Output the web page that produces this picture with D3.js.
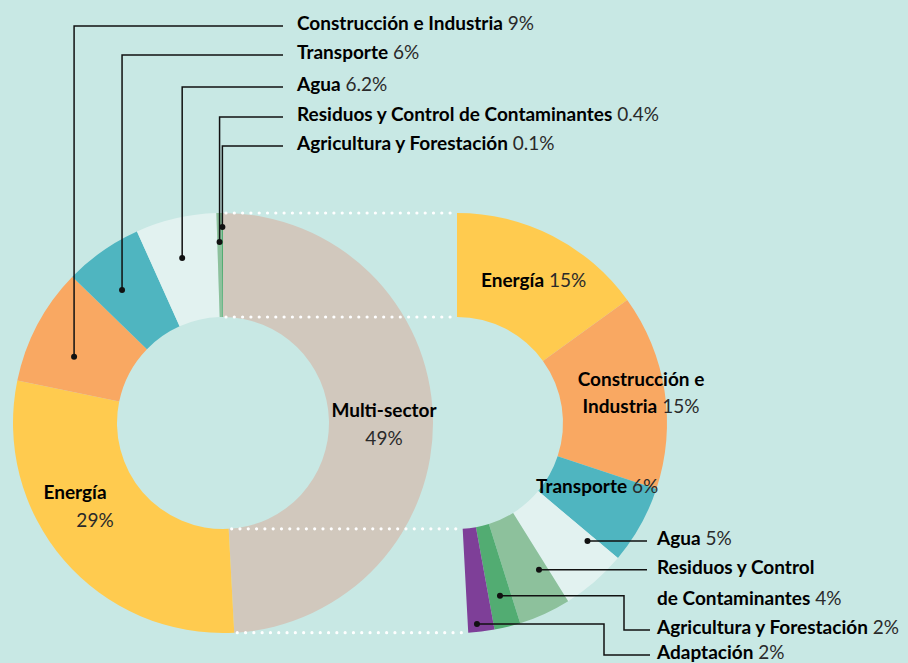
<!DOCTYPE html>
<html>
<head>
<meta charset="utf-8">
<script src="https://cdn.jsdelivr.net/npm/d3@7"></script>
<style>
	body { margin: 0; background: #c8e8e4; }
	svg { display: block; font-family: Lato, 'Open Sans', sans-serif; }
	.name { font-weight: 700; fill: #000; }
	.pct { font-weight: 400; fill: #2a2a2a; }
</style>
</head>
<body>
<div id="chart"></div>
<script>
// total climate finance by sector
var sectors = ['Multi-sector', 'Energía', 'Construcción e Industria', 'Transporte', 'Agua',
	'Residuos y Control de Contaminantes', 'Agricultura y Forestación'];
var shares = [49, 29, 9, 6, 6.2, 0.4, 0.1];

// breakdown of the multi-sector slice
var multiSectors = ['Energía', 'Construcción e Industria', 'Transporte', 'Agua',
	'Residuos y Control de Contaminantes', 'Agricultura y Forestación', 'Adaptación'];
var multiShares = [15, 15, 6, 5, 4, 2, 2];

var width = 908;
var height = 663;
var outerR = 210;
var innerR = 106;
var cy = 423;
var leftCx = 223;
var rightCx = 457;
var fontSize = 19;

var color = d3.scaleOrdinal()
	.domain(['Multi-sector', 'Energía', 'Construcción e Industria', 'Transporte', 'Agua',
		'Residuos y Control de Contaminantes', 'Agricultura y Forestación', 'Adaptación'])
	.range(['#d1c8bd', '#ffcb4f', '#f9a862', '#4fb5c0', '#e2f2f0', '#8dc19c', '#52ac72', '#7e3f98']);

var svg = d3.select('#chart')
	.append('svg')
	.attr('width', width)
	.attr('height', height);

svg.append('rect').attr('width', width).attr('height', height).attr('fill', '#c8e8e4');

var arc = d3.arc().innerRadius(innerR).outerRadius(outerR);

/* left donut */
var leftData = d3.pie().sort(null)(shares)
	.map((p, i) => Object.assign(p, { name: sectors[i] }));

var left = svg.append('g').attr('transform', `translate(${leftCx}, ${cy})`);
left.selectAll('path')
	.data(leftData)
	.enter()
	.append('path')
	.attr('d', arc)
	.attr('fill', d => color(d.name));

/* right half donut, same span as the multi-sector slice */
var multi = leftData[0];
var rightData = d3.pie().sort(null)
	.startAngle(multi.startAngle)
	.endAngle(multi.endAngle)(multiShares)
	.map((p, i) => Object.assign(p, { name: multiSectors[i] }));

var right = svg.append('g').attr('transform', `translate(${rightCx}, ${cy})`);
right.selectAll('path')
	.data(rightData)
	.enter()
	.append('path')
	.attr('d', arc)
	.attr('fill', d => color(d.name));

function pt(cx, a, r) {
	return [cx + r * Math.sin(a), cy - r * Math.cos(a)];
}

/* dotted connectors */
var conn = [];
[multi.startAngle, multi.endAngle].forEach(function(a) {
	[outerR, innerR].forEach(function(r) {
		conn.push([pt(leftCx, a, r), pt(rightCx, a, r)]);
	});
});
svg.append('g')
	.selectAll('line')
	.data(conn)
	.enter()
	.append('line')
	.attr('x1', d => d[0][0] + 3)
	.attr('y1', d => d[0][1])
	.attr('x2', d => d[1][0])
	.attr('y2', d => d[1][1])
	.attr('stroke', '#fff')
	.attr('stroke-width', 3.2)
	.attr('stroke-linecap', 'round')
	.attr('stroke-dasharray', '0 8.3');

function dotAt(slice, cx, t, r) {
	var a = slice.startAngle + t * (slice.endAngle - slice.startAngle);
	return pt(cx, a, r);
}

function label(g, x, y, name, pct, anchor) {
	var t = g.append('text')
		.attr('x', x)
		.attr('y', y)
		.attr('font-size', fontSize)
		.attr('text-anchor', anchor || 'start');
	if (name) t.append('tspan').attr('class', 'name').text(name);
	if (pct) t.append('tspan').attr('class', 'pct').text((name ? ' ' : '') + pct);
	return t;
}

var ann = svg.append('g');

/* top-left callouts */
var topCallouts = [
	{ i: 2, t: 0.38, r: 163, y: 26 },
	{ i: 3, t: 0.4, r: 167, y: 55 },
	{ i: 4, t: 0.46, r: 170, y: 87 },
	{ i: 5, t: 0.5, r: 181, y: 117 },
	{ i: 6, t: 0.5, r: 196, y: 146 }
];
topCallouts.forEach(function(c) {
	var p = dotAt(leftData[c.i], leftCx, c.t, c.r);
	ann.append('path')
		.attr('d', `M${p[0]},${p[1]}V${c.y}H283`)
		.attr('fill', 'none')
		.attr('stroke', '#111')
		.attr('stroke-width', 1.5);
	ann.append('circle').attr('cx', p[0]).attr('cy', p[1]).attr('r', 3).attr('fill', '#111');
	label(ann, 297, c.y + 4, sectors[c.i], shares[c.i] + '%');
});

/* labels inside left donut */
label(ann, 384, 417, 'Multi-sector', null, 'middle');
label(ann, 384, 445, null, shares[0] + '%', 'middle');
label(ann, 75, 499, 'Energía', null, 'middle');
label(ann, 95, 527, null, shares[1] + '%', 'middle');

/* labels inside right donut */
label(ann, 481, 287, 'Energía', multiShares[0] + '%');
label(ann, 641, 386, 'Construcción e', null, 'middle');
label(ann, 641, 413, 'Industria', multiShares[1] + '%', 'middle');
label(ann, 536, 493, 'Transporte', multiShares[2] + '%');

/* bottom-right callouts */
var sideCallouts = [
	{ i: 3, t: 0.12, r: 176, y: null, lines: [['Agua', '5%']] },
	{ i: 4, t: 0.19, r: 168, y: null, lines: [['Residuos y Control', null], ['de Contaminantes', '4%']] },
	{ i: 5, t: 0.49, r: 178, y: 630, elbow: 624, lines: [['Agricultura y Forestación', '2%']] },
	{ i: 6, t: 0.64, r: 202, y: 655, elbow: 604, lines: [['Adaptación', '2%']] }
];
sideCallouts.forEach(function(c) {
	var p = dotAt(rightData[c.i], rightCx, c.t, c.r);
	var ly = c.y == null ? p[1] : c.y;
	var d = c.elbow ? `M${p[0]},${p[1]}H${c.elbow}V${ly}H650` : `M${p[0]},${p[1]}H647`;
	ann.append('path')
		.attr('d', d)
		.attr('fill', 'none')
		.attr('stroke', '#111')
		.attr('stroke-width', 1.5);
	ann.append('circle').attr('cx', p[0]).attr('cy', p[1]).attr('r', 3).attr('fill', '#111');
	c.lines.forEach(function(l, k) {
		label(ann, 657, ly + 4 + k * 31, l[0], l[1]);
	});
});
</script>
</body>
</html>
